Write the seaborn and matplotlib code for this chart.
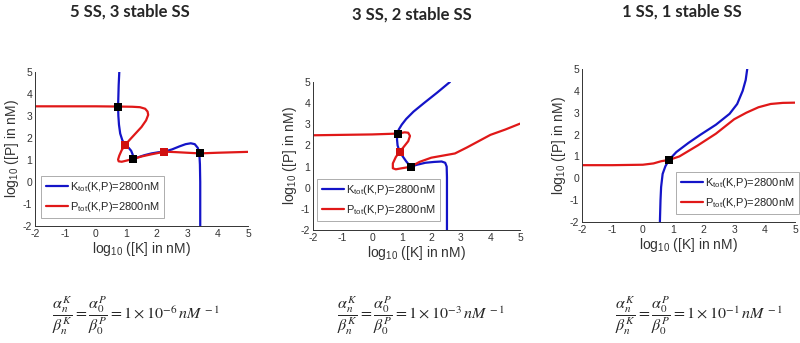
import numpy as np
import matplotlib
matplotlib.use('Agg')
import matplotlib.pyplot as plt
import seaborn as sns
import pandas as pd

# Panel titles and parameter ratios
titles = ['5 SS, 3 stable SS', '3 SS, 2 stable SS', '1 SS, 1 stable SS']
ratio_exps = ['-6', '-3', '-1']

# Panel 1 nullclines (log10 K, log10 P)
k1_x = [0.77, 0.75, 0.74, 0.73, 0.74, 0.76, 0.80, 0.87, 0.96, 1.08, 1.16, 1.21, 1.23, 1.40, 1.60, 1.83, 2.05, 2.25,
        2.50, 2.75, 2.95, 3.12, 3.25, 3.35, 3.40, 3.42, 3.43, 3.43, 3.43]
k1_y = [5.00, 4.40, 3.90, 3.42, 3.00, 2.60, 2.20, 1.90, 1.68, 1.55, 1.42, 1.25, 1.05, 1.13, 1.22, 1.30, 1.35, 1.38,
        1.48, 1.62, 1.72, 1.76, 1.72, 1.55, 1.30, 0.80, 0.00, -1.00, -2.00]
p1_x = [-2.0, -1.0, 0.0, 0.74, 1.20, 1.45, 1.62, 1.70, 1.72, 1.65, 1.50, 1.30, 1.10, 0.96, 0.85, 0.77, 0.73, 0.75,
        0.85, 1.00, 1.23, 1.50, 1.83, 2.05, 2.25, 2.60, 3.00, 3.42, 4.00, 4.50, 5.00]
p1_y = [3.44, 3.44, 3.44, 3.43, 3.42, 3.40, 3.33, 3.20, 3.05, 2.80, 2.50, 2.20, 1.90, 1.68, 1.45, 1.20, 1.02, 0.94,
        0.92, 0.97, 1.05, 1.16, 1.26, 1.32, 1.38, 1.36, 1.33, 1.30, 1.33, 1.35, 1.37]
stable1_x = [0.74, 1.23, 3.42]
stable1_y = [3.42, 1.05, 1.30]
unstable1_x = [0.96, 2.25]
unstable1_y = [1.68, 1.38]

# Panel 2 nullclines
k2_x = [2.63, 2.20, 1.75, 1.40, 1.15, 1.00, 0.90, 0.86, 0.84, 0.86, 0.93, 1.05, 1.15, 1.30, 1.50, 1.80, 2.10,
        2.35, 2.47, 2.52, 2.53, 2.53]
k2_y = [5.00, 4.50, 4.00, 3.60, 3.25, 2.98, 2.75, 2.56, 2.30, 2.00, 1.70, 1.45, 1.25, 0.99, 1.08, 1.18, 1.22,
        1.24, 1.18, 1.00, 0.50, -2.00]
p2_x = [-2.0, -1.0, 0.0, 0.86, 1.10, 1.22, 1.28, 1.22, 1.05, 0.93, 0.80, 0.70, 0.70, 0.80, 1.00, 1.30, 1.60, 2.00,
        2.40, 2.80, 3.20, 3.60, 4.00, 4.50, 5.00]
p2_y = [2.48, 2.50, 2.52, 2.56, 2.62, 2.60, 2.45, 2.20, 1.90, 1.70, 1.45, 1.15, 0.92, 0.87, 0.92, 0.99, 1.22, 1.42,
        1.52, 1.62, 1.90, 2.20, 2.50, 2.75, 3.03]
stable2_x = [0.86, 1.30]
stable2_y = [2.56, 0.99]
unstable2_x = [0.93]
unstable2_y = [1.70]

# Panel 3 nullclines
k3_x = [0.56, 0.58, 0.60, 0.65, 0.74, 0.86, 1.10, 1.50, 1.90, 2.40, 2.85, 3.10, 3.28, 3.38, 3.43]
k3_y = [-2.00, -1.00, -0.40, 0.20, 0.55, 0.84, 1.20, 1.62, 2.00, 2.45, 2.95, 3.40, 4.00, 4.50, 5.00]
p3_x = [-2.0, -1.0, 0.0, 0.35, 0.60, 0.86, 1.20, 1.80, 2.40, 3.00, 3.40, 3.80, 4.20, 4.60, 5.00]
p3_y = [0.60, 0.60, 0.62, 0.68, 0.78, 0.84, 1.00, 1.50, 2.04, 2.70, 3.00, 3.25, 3.40, 3.45, 3.46]
stable3_x = [0.86]
stable3_y = [0.84]
unstable3_x = []
unstable3_y = []

panels = [
    (k1_x, k1_y, p1_x, p1_y, stable1_x, stable1_y, unstable1_x, unstable1_y),
    (k2_x, k2_y, p2_x, p2_y, stable2_x, stable2_y, unstable2_x, unstable2_y),
    (k3_x, k3_y, p3_x, p3_y, stable3_x, stable3_y, unstable3_x, unstable3_y),
]

sns.set_style('white')
plt.rcParams['font.family'] = ['Liberation Sans', 'DejaVu Sans']
plt.rcParams['mathtext.fontset'] = 'custom'
plt.rcParams['mathtext.rm'] = 'Liberation Sans'
plt.rcParams['mathtext.it'] = 'Liberation Sans:italic'
plt.rcParams['axes.unicode_minus'] = False

blue = '#1414c8'
red = '#e01818'
grey = '#333333'

fig = plt.figure(figsize=(8, 3.43), dpi=100)

# axes rectangles in figure fractions
rects = [
    [35 / 800, 1 - 226 / 343, 213 / 800, 154 / 343],
    [313 / 800, 1 - 230 / 343, 207 / 800, 148 / 343],
    [582 / 800, 1 - 222 / 343, 213 / 800, 153 / 343],
]
legend_loc = [('lower left', (0.03, 0.05)), ('lower left', (0.02, 0.06)), ('lower right', (1.02, 0.05))]
title_x = [130, 412, 682]
title_y = [12, 15, 12]
eq_x = [136, 421, 699]

for i, (kx, ky, px, py, sx, sy, ux, uy) in enumerate(panels):
    ax = fig.add_axes(rects[i])
    kdf = pd.DataFrame({'x': kx, 'y': ky})
    pdf = pd.DataFrame({'x': px, 'y': py})
    sns.lineplot(data=kdf, x='x', y='y', sort=False, estimator=None, color=blue, lw=1.6, ax=ax,
                 label=r'K$_{\mathrm{tot}}$(K,P)=2800nM')
    sns.lineplot(data=pdf, x='x', y='y', sort=False, estimator=None, color=red, lw=1.6, ax=ax,
                 label=r'P$_{\mathrm{tot}}$(K,P)=2800nM')
    if sx:
        ax.scatter(sx, sy, marker='s', s=40, color='black', zorder=5, linewidths=0)
    if ux:
        ax.scatter(ux, uy, marker='s', s=40, color='#d01010', zorder=5, linewidths=0)

    ax.set_xlim(-2, 5)
    ax.set_ylim(-2, 5)
    ax.set_xticks(range(-2, 6))
    ax.set_yticks(range(-2, 6))
    ax.tick_params(direction='in', length=2.5, width=0.6, labelsize=7.5, colors=grey, pad=2)
    for side in ['top', 'right']:
        ax.spines[side].set_visible(False)
    for side in ['left', 'bottom']:
        ax.spines[side].set_color(grey)
        ax.spines[side].set_linewidth(0.7)
    ax.set_xlabel(r'log$_{10}$ ([K] in nM)', fontsize=10, color=grey, labelpad=1)
    ax.set_ylabel(r'log$_{10}$ ([P] in nM)', fontsize=10, color=grey, labelpad=1)

    loc, anchor = legend_loc[i]
    leg = ax.legend(loc=loc, bbox_to_anchor=anchor, fontsize=8, frameon=True, fancybox=False,
                    handlelength=2.0, handletextpad=0.2, borderpad=0.4, labelspacing=0.5, borderaxespad=0)
    leg.get_frame().set_edgecolor('#888888')
    leg.get_frame().set_linewidth(0.6)

    fig.text(title_x[i] / 800, 1 - title_y[i] / 343, titles[i], ha='center', va='center',
             fontsize=12, fontweight='bold', family=['Lato', 'DejaVu Sans'])
    eq = (r'$\dfrac{\alpha_n^K}{\beta_n^K} = \dfrac{\alpha_0^P}{\beta_0^P} = 1\times10^{%s}\,nM^{\,-1}$'
          % ratio_exps[i])
    fig.text(eq_x[i] / 800, 1 - 316 / 343, eq, ha='center', va='center', fontsize=11.5,
             math_fontfamily='stix')

fig.savefig('out.png', dpi=100)
